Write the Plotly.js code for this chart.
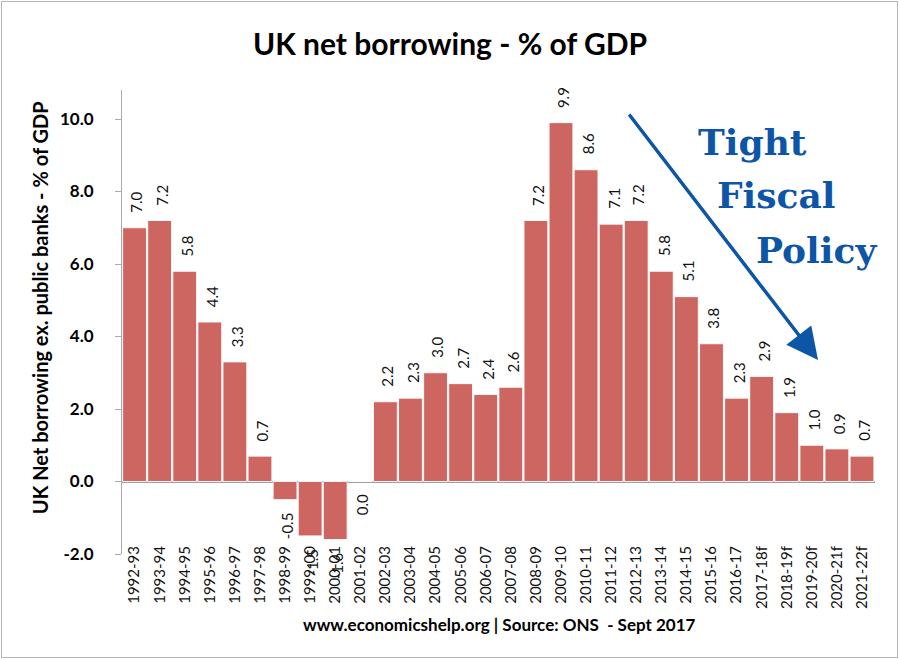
<!DOCTYPE html>
<html>
<head>
<meta charset="utf-8">
<script src="https://cdn.plot.ly/plotly-3.0.1.min.js"></script>
<style>
  html, body { margin: 0; padding: 0; background: #fff; }
  #wrap { position: relative; width: 900px; height: 660px; }
  #chart { width: 900px; height: 660px; }
  #frame { position: absolute; left: 1px; top: 1px; width: 895px; height: 655px; border: 1px solid #b4b4b4; pointer-events: none; }
</style>
</head>
<body>
<div id="wrap"><div id="chart"></div><div id="frame"></div></div>
<script>
const years = ["1992-93","1993-94","1994-95","1995-96","1996-97","1997-98","1998-99","1999-00","2000-01","2001-02",
  "2002-03","2003-04","2004-05","2005-06","2006-07","2007-08","2008-09","2009-10","2010-11","2011-12",
  "2012-13","2013-14","2014-15","2015-16","2016-17","2017-18f","2018-19f","2019-20f","2020-21f","2021-22f"];
const borrowing = [7.0, 7.2, 5.8, 4.4, 3.3, 0.7, -0.5, -1.5, -1.6, 0.0,
  2.2, 2.3, 3.0, 2.7, 2.4, 2.6, 7.2, 9.9, 8.6, 7.1,
  7.2, 5.8, 5.1, 3.8, 2.3, 2.9, 1.9, 1.0, 0.9, 0.7];
const yTicks = [-2, 0, 2, 4, 6, 8, 10];
const yTickText = ["-2.0", "0.0", "2.0", "4.0", "6.0", "8.0", "10.0"];

const labelFont = {family: "Lato, 'DejaVu Sans', sans-serif", size: 15, color: "#111"};
const valueLabels = years.map((c, i) => {
  const v = borrowing[i];
  const pos = v > 0;
  return {
    x: c, y: v, xref: "x", yref: "y",
    text: v.toFixed(1), showarrow: false, textangle: -90,
    yanchor: pos ? "bottom" : "top", xanchor: "center",
    yshift: pos ? 13 : -11, xshift: 2,
    font: labelFont
  };
});

const blue = "#0D55A6";
const serif = {family: "'DejaVu Serif', 'Liberation Serif', serif", size: 36, color: blue, weight: "bold"};

const annotations = valueLabels.concat([
  {xref: "paper", yref: "paper", x: 0.9243, y: 0.4181, ax: -190, ay: -247, axref: "pixel", ayref: "pixel",
   showarrow: true, arrowhead: 2, arrowsize: 1.8, arrowwidth: 3.5, arrowcolor: blue, text: ""},
  {xref: "paper", yref: "paper", x: 0.8367, y: 0.888, text: "<b>Tight</b>", showarrow: false, font: serif, xanchor: "center", yanchor: "middle"},
  {xref: "paper", yref: "paper", x: 0.8685, y: 0.7737, text: "<b>Fiscal</b>", showarrow: false, font: serif, xanchor: "center", yanchor: "middle"},
  {xref: "paper", yref: "paper", x: 0.9217, y: 0.655, text: "<b>Policy</b>", showarrow: false, font: serif, xanchor: "center", yanchor: "middle"},
  {xref: "paper", yref: "paper", x: -0.1089, y: 0.532, text: "<b>UK Net borrowing ex. public banks - % of GDP</b>",
   textangle: -90, showarrow: false, xanchor: "center", yanchor: "middle",
   font: {family: "Lato, 'DejaVu Sans', sans-serif", size: 20, color: "#000"}},
  {xref: "paper", yref: "paper", x: 0.5007, y: -0.1509, text: "<b>www.economicshelp.org | Source: ONS  - Sept 2017</b>",
   showarrow: false, xanchor: "center", yanchor: "middle",
   font: {family: "Lato, 'DejaVu Sans', sans-serif", size: 17, color: "#000"}}
]);

const trace = {
  type: "bar", x: years, y: borrowing,
  marker: {color: "#CD6660", line: {color: "rgba(255,255,255,0.9)", width: 1}},
  hoverinfo: "x+y"
};

const layout = {
  width: 900, height: 660,
  margin: {l: 122, r: 25, t: 90, b: 106},
  paper_bgcolor: "#fff", plot_bgcolor: "#fff",
  showlegend: false,
  bargap: 0.05,
  title: {text: "<b>UK net borrowing - % of GDP</b>", x: 0.5, xanchor: "center", y: 0.933, yanchor: "middle",
          font: {family: "Lato, 'DejaVu Sans', sans-serif", size: 30, color: "#000"}},
  xaxis: {
    type: "category", tickangle: -90, showgrid: false, showline: false, ticks: "",
    zeroline: false, tickfont: {family: "Lato, 'DejaVu Sans', sans-serif", size: 15, color: "#111"},
    ticklabelstandoff: -12
  },
  yaxis: {
    range: [-2, 10.8], tickvals: yTicks, ticktext: yTickText,
    showgrid: false, showline: true, linecolor: "#aaaaaa", linewidth: 1,
    ticks: "outside", ticklen: 6, tickcolor: "#aaaaaa",
    zeroline: true, zerolinecolor: "#a0a0a0", zerolinewidth: 2,
    tickfont: {family: "Lato, 'DejaVu Sans', sans-serif", size: 17, color: "#000", weight: "bold"},
    ticklabelstandoff: 18
  },
  annotations: annotations
};

Plotly.newPlot("chart", [trace], layout, {displayModeBar: false, staticPlot: true});
</script>
</body>
</html>
